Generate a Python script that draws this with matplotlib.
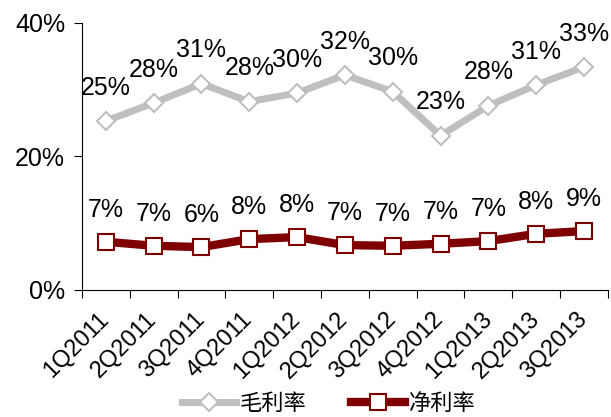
import matplotlib.pyplot as plt
import numpy as np

quarters = ["1Q2011", "2Q2011", "3Q2011", "4Q2011", "1Q2012", "2Q2012",
            "3Q2012", "4Q2012", "1Q2013", "2Q2013", "3Q2013"]
gross_margin = [25.3, 28.0, 30.9, 28.2, 29.5, 32.2, 29.7, 23.1, 27.6, 30.7, 33.4]
net_margin = [7.2, 6.6, 6.4, 7.6, 7.9, 6.7, 6.6, 6.9, 7.3, 8.4, 8.8]

plt.rcParams['font.family'] = ['Liberation Sans', 'Noto Sans CJK SC', 'DejaVu Sans']

fig = plt.figure(figsize=(6.11, 4.17), dpi=100)
ax = fig.add_axes([0.134, 0.305, 0.861, 0.640])

x = np.arange(len(quarters))
ax.plot(x, gross_margin, color="#BFBFBF", lw=5, marker="D", ms=9,
        mfc="white", mec="#BFBFBF", mew=1.5, label="毛利率", zorder=3)
ax.plot(x, net_margin, color="#7F0000", lw=6, marker="s", ms=12,
        mfc="white", mec="#7F0000", mew=1.5, label="净利率", zorder=3)

for i in x:
    ax.annotate(f"{round(gross_margin[i])}%", (i, gross_margin[i]),
                xytext=(0, 24), textcoords="offset points",
                ha="center", va="center", fontsize=18)
    ax.annotate(f"{round(net_margin[i])}%", (i, net_margin[i]),
                xytext=(0, 23), textcoords="offset points",
                ha="center", va="center", fontsize=18)

ax.set_xlim(-0.5, len(quarters) - 0.5)
ax.set_ylim(0, 40)
ax.set_yticks([0, 20, 40])
ax.set_yticklabels(["0%", "20%", "40%"], fontsize=18)
ax.set_xticks(x)
ax.set_xticklabels(quarters, rotation=45, ha="right", va="center",
                   rotation_mode="anchor", fontsize=17)
ax.set_xticks(np.arange(-0.5, len(quarters)), minor=True)
ax.tick_params(axis="x", which="major", length=0, pad=19)
ax.tick_params(axis="x", which="minor", length=6, width=0.8)
ax.tick_params(axis="y", length=6, width=0.8, pad=6)

for s in ["top", "right"]:
    ax.spines[s].set_visible(False)

ax.legend(loc="center", bbox_to_anchor=(0.47, -0.43), ncol=2,
          frameon=False, fontsize=16, handlelength=2.4, columnspacing=2.0,
          handletextpad=0.2)

fig.savefig("out.png", dpi=100)
